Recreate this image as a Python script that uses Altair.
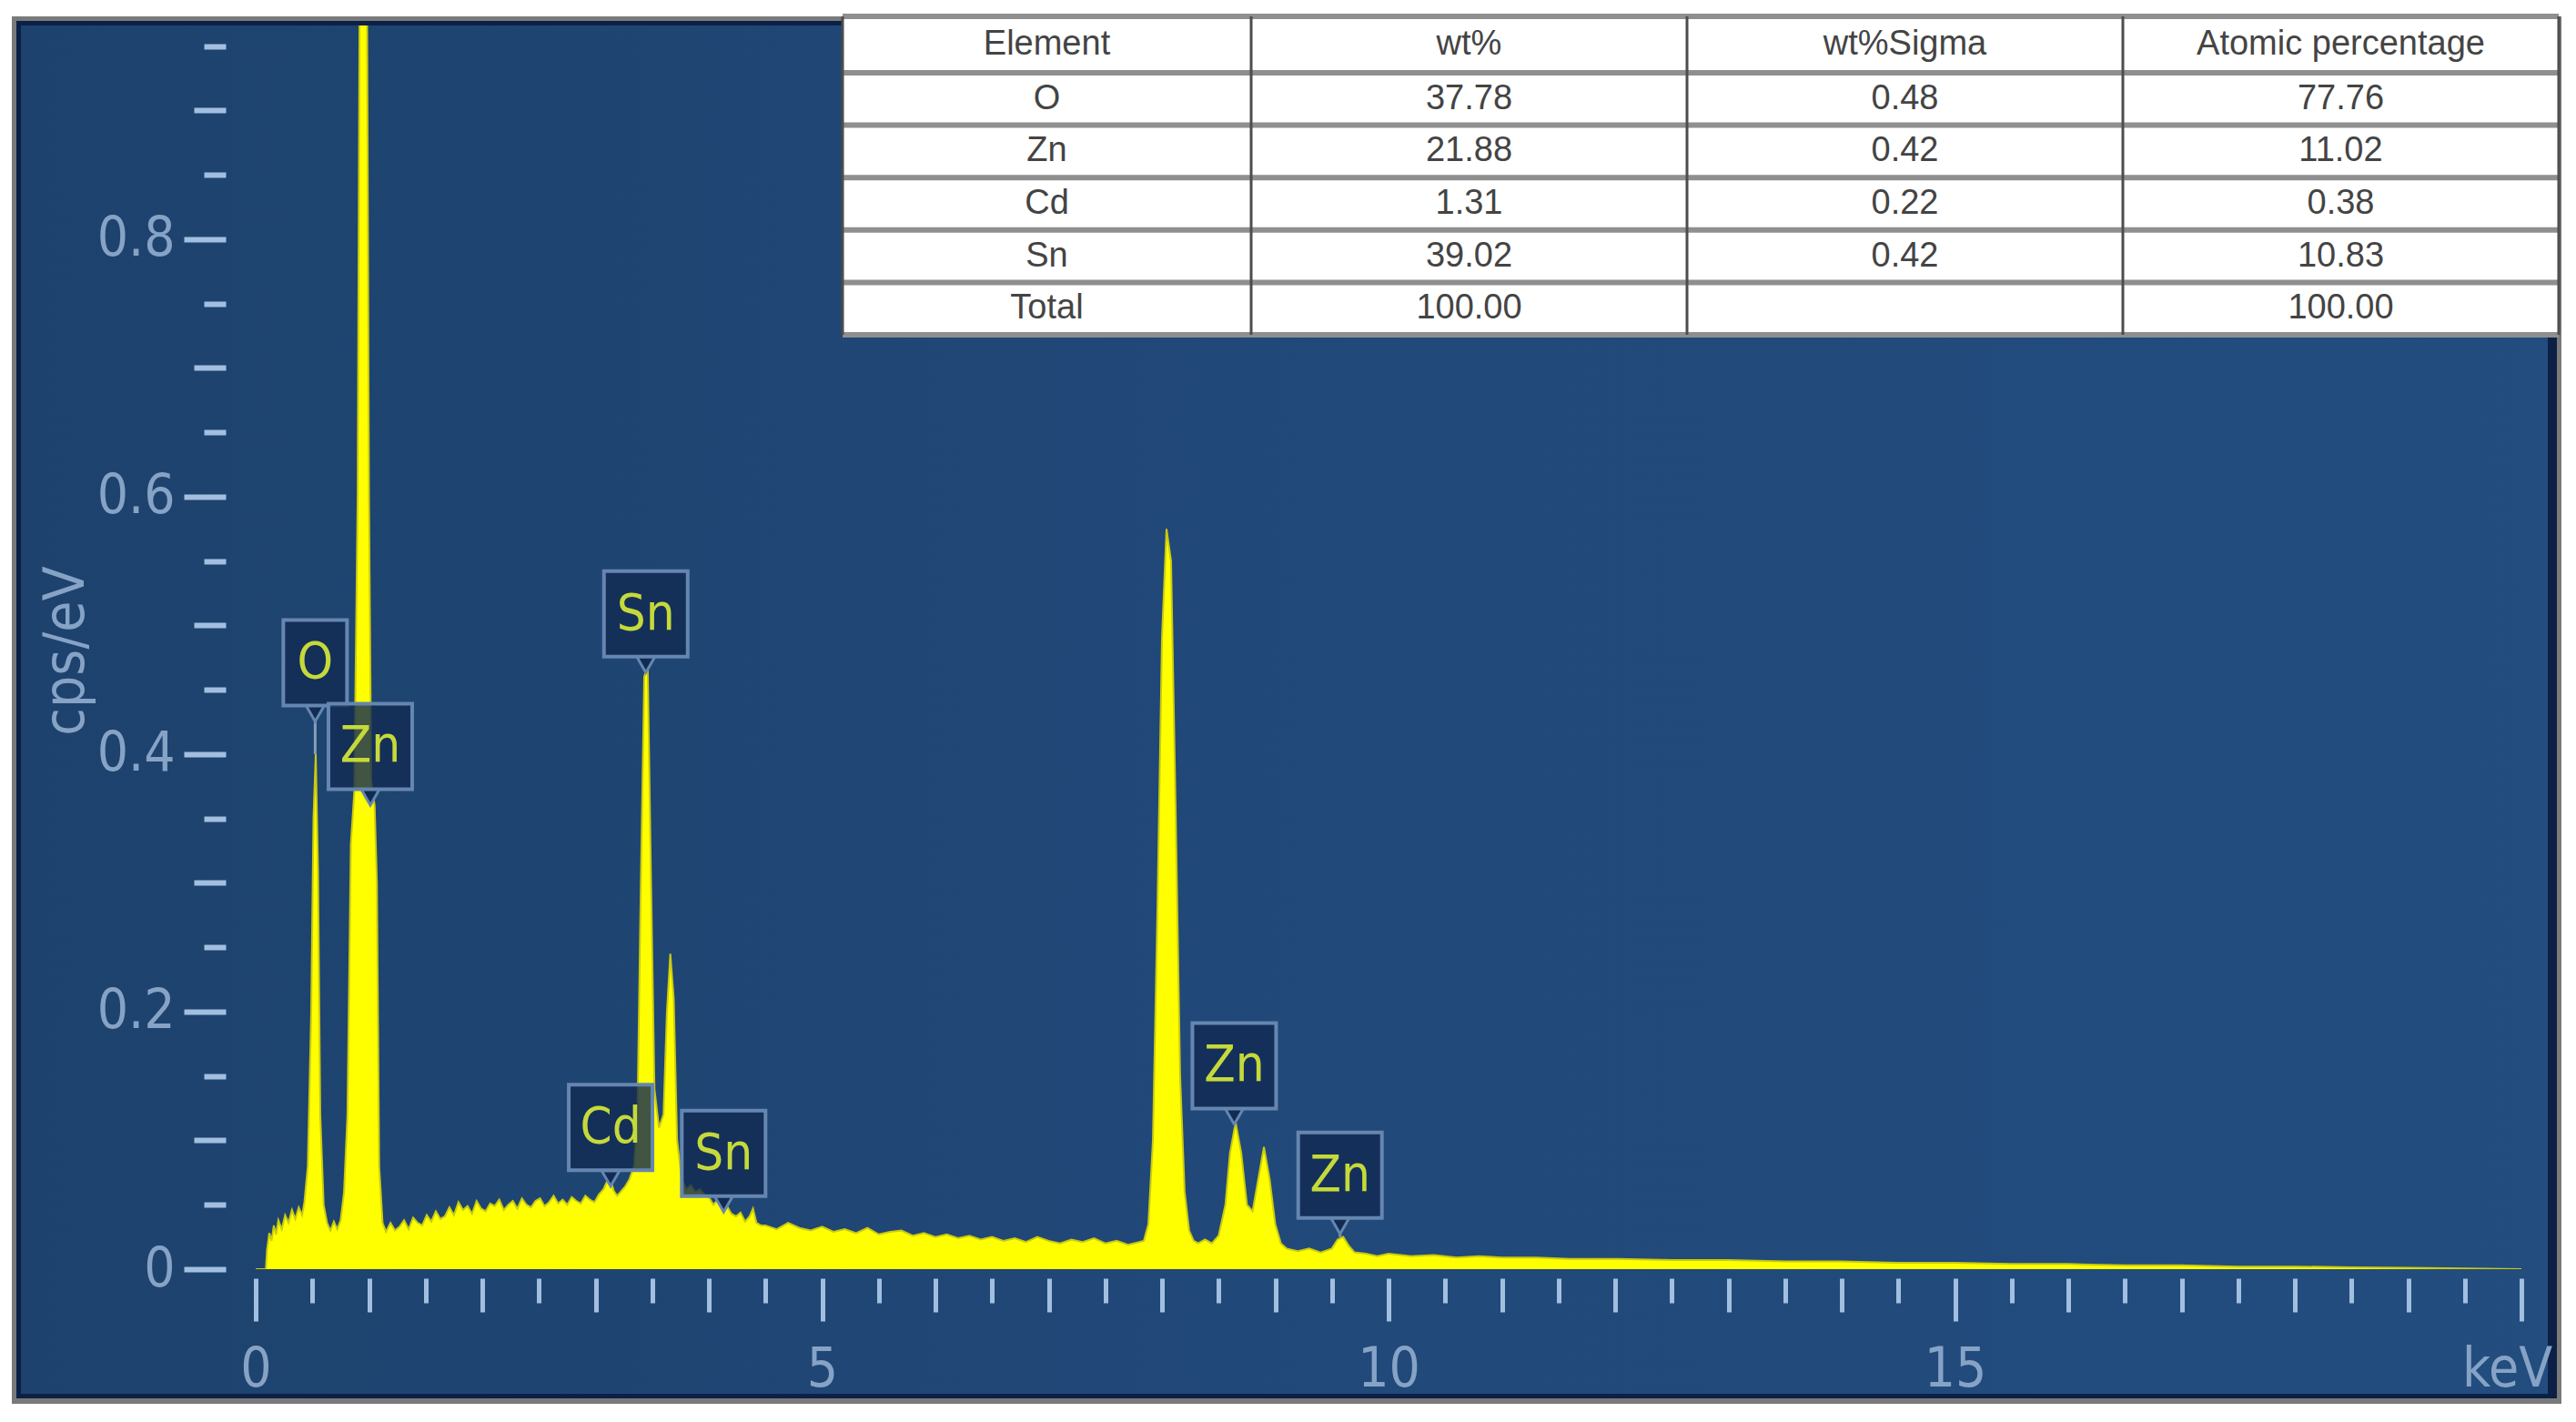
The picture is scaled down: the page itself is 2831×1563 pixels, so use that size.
import altair as alt
import pandas as pd

# ---------------- data ----------------
energy_keV = [
    0.00, 0.09, 0.10, 0.12, 0.14, 0.16, 0.18, 0.20, 0.23, 0.26, 0.29, 0.32, 0.35, 0.38, 0.41, 0.43,
    0.46, 0.49, 0.51, 0.53, 0.55, 0.57, 0.60, 0.63, 0.66, 0.69, 0.72, 0.75, 0.78, 0.81, 0.84, 0.87,
    0.90, 0.92, 0.98, 1.00, 1.02, 1.05, 1.07, 1.09, 1.12,
    1.15, 1.19, 1.23, 1.27, 1.31, 1.35, 1.39, 1.43, 1.47, 1.51, 1.55, 1.59, 1.63, 1.67, 1.71, 1.75,
    1.79, 1.83, 1.87, 1.91, 1.95, 1.99, 2.03, 2.07, 2.11, 2.15, 2.19, 2.23, 2.27, 2.31, 2.35, 2.39,
    2.43, 2.47, 2.51, 2.55, 2.59, 2.63, 2.67, 2.71, 2.75, 2.79, 2.83, 2.87, 2.91, 2.95, 2.99, 3.03,
    3.07, 3.10, 3.13, 3.16, 3.19, 3.22, 3.26, 3.30, 3.34, 3.37, 3.40, 3.43, 3.46, 3.49, 3.52, 3.56,
    3.60, 3.63, 3.66, 3.69, 3.72, 3.76, 3.80, 3.84, 3.88, 3.92, 3.96, 4.00, 4.04, 4.08, 4.12, 4.16,
    4.20, 4.24, 4.28, 4.32, 4.36, 4.39, 4.42, 4.46,
    4.5, 4.6, 4.7, 4.8, 4.9, 5.0, 5.1, 5.2, 5.3, 5.4, 5.5, 5.6, 5.7, 5.8, 5.9, 6.0, 6.1, 6.2, 6.3,
    6.4, 6.5, 6.6, 6.7, 6.8, 6.9, 7.0, 7.1, 7.2, 7.3, 7.4, 7.5, 7.6, 7.7, 7.8,
    7.84, 7.88, 7.92, 7.96, 8.00, 8.04, 8.08, 8.12, 8.16, 8.20, 8.24, 8.28, 8.32, 8.38, 8.44, 8.50,
    8.56, 8.60, 8.65, 8.70, 8.75, 8.80, 8.85, 8.90, 8.95, 9.00, 9.05, 9.10, 9.20, 9.30, 9.40, 9.50,
    9.55, 9.60, 9.65, 9.70,
    9.8, 9.9, 10.0, 10.2, 10.4, 10.6, 10.8, 11.0, 11.3, 11.6, 12.0, 12.5, 13.0, 13.5, 14.0, 14.5,
    15.0, 15.5, 16.0, 16.5, 17.0, 17.5, 18.0, 18.5, 19.0, 19.5, 20.0,
]
cps_per_eV = [
    0.000, 0.000, 0.015, 0.028, 0.022, 0.034, 0.027, 0.038, 0.031, 0.042, 0.036, 0.046, 0.039, 0.048, 0.042, 0.052,
    0.080, 0.200, 0.350, 0.400, 0.310, 0.120, 0.050, 0.036, 0.030, 0.037, 0.031, 0.038, 0.060, 0.120, 0.330, 0.370,
    0.600, 1.050, 1.050, 0.600, 0.380, 0.360, 0.300, 0.080, 0.036,
    0.029, 0.036, 0.030, 0.033, 0.038, 0.031, 0.040, 0.036, 0.034, 0.042, 0.037, 0.045, 0.039, 0.041, 0.048, 0.042,
    0.052, 0.046, 0.049, 0.043, 0.053, 0.047, 0.045, 0.051, 0.049, 0.054, 0.046, 0.050, 0.053, 0.047, 0.055, 0.050,
    0.048, 0.053, 0.055, 0.049, 0.052, 0.057, 0.051, 0.054, 0.050, 0.056, 0.053, 0.051, 0.057, 0.054, 0.052, 0.058,
    0.062, 0.068, 0.070, 0.061, 0.057, 0.060, 0.064, 0.070, 0.080, 0.120, 0.300, 0.460, 0.470, 0.300, 0.140, 0.110,
    0.120, 0.200, 0.245, 0.210, 0.100, 0.070, 0.062, 0.065, 0.060, 0.062, 0.058, 0.056, 0.050, 0.054, 0.046, 0.049,
    0.043, 0.041, 0.044, 0.037, 0.041, 0.047, 0.036, 0.034,
    0.034, 0.031, 0.036, 0.032, 0.030, 0.033, 0.029, 0.031, 0.028, 0.032, 0.027, 0.029, 0.030, 0.026, 0.028, 0.025, 0.027, 0.024, 0.026,
    0.023, 0.025, 0.022, 0.024, 0.021, 0.025, 0.022, 0.020, 0.023, 0.021, 0.024, 0.020, 0.022, 0.019, 0.021,
    0.022, 0.035, 0.100, 0.280, 0.490, 0.575, 0.550, 0.360, 0.150, 0.060, 0.030, 0.022, 0.020, 0.023, 0.020, 0.026,
    0.050, 0.090, 0.114, 0.090, 0.050, 0.045, 0.070, 0.095, 0.070, 0.035, 0.020, 0.016, 0.014, 0.016, 0.013, 0.016,
    0.023, 0.025, 0.018, 0.013,
    0.012, 0.010, 0.012, 0.010, 0.011, 0.009, 0.010, 0.009, 0.009, 0.008, 0.008, 0.007, 0.007, 0.006, 0.006, 0.005,
    0.005, 0.004, 0.004, 0.003, 0.003, 0.002, 0.002, 0.0015, 0.001, 0.0005, 0.000,
]

peak_labels = ["O", "Zn", "Sn", "Cd", "Sn", "Zn", "Zn"]
peak_keV = [0.525, 1.012, 3.444, 3.133, 4.131, 8.638, 9.572]
label_center = [0.471, 0.406, 0.509, 0.110, 0.090, 0.158, 0.073]
peak_top = [0.40, 0.37, 0.465, 0.07, 0.056, 0.114, 0.025]

x_major = [0, 5, 10, 15]
x_end = [20]
x_medium = [1, 2, 3, 4, 6, 7, 8, 9, 11, 12, 13, 14, 16, 17, 18, 19]
x_minor = [0.5, 1.5, 2.5, 3.5, 4.5, 5.5, 6.5, 7.5, 8.5, 9.5, 10.5, 11.5, 12.5, 13.5, 14.5,
           15.5, 16.5, 17.5, 18.5, 19.5]
y_major = [0, 0.2, 0.4, 0.6, 0.8]
y_medium = [0.1, 0.3, 0.5, 0.7, 0.9]
y_minor = [0.05, 0.15, 0.25, 0.35, 0.45, 0.55, 0.65, 0.75, 0.85, 0.95]

table_headers = ["Element", "wt%", "wt%Sigma", "Atomic percentage"]
table_element = ["O", "Zn", "Cd", "Sn", "Total"]
table_wt = ["37.78", "21.88", "1.31", "39.02", "100.00"]
table_sigma = ["0.48", "0.42", "0.22", "0.42", ""]
table_atomic = ["77.76", "11.02", "0.38", "10.83", "100.00"]

# ---------------- layout / style ----------------
W, H = 2490, 1367
XMAX, YMAX = 20, 0.966
PX_KEV = W / XMAX
PX_UNIT = H / YMAX
NARROW = "Liberation Sans Narrow, Arial Narrow, DejaVu Sans Condensed, sans-serif"
TICK = "#a2bfe0"
LAB = "#86a3c6"

xs = alt.Scale(domain=[0, XMAX], nice=False, zero=False)
ys = alt.Scale(domain=[0, YMAX], nice=False, zero=False)

spec = pd.DataFrame({"keV": energy_keV, "cps": cps_per_eV})

lab = pd.DataFrame({"t": peak_labels, "k": peak_keV, "c": label_center, "p": peak_top})
lab["hw"] = [(35 if len(t) == 1 else 46) / PX_KEV for t in peak_labels]
hh = 47 / PX_UNIT
lab["x1"] = lab["k"] - lab["hw"]
lab["x2"] = lab["k"] + lab["hw"]
lab["y1"] = lab["c"] - hh
lab["y2"] = lab["c"] + hh

one = pd.DataFrame({"a": [0]})

# panel background (decoration)
panel_outer = alt.Chart(one).mark_rect(fill="#7a7a7a").encode(
    x=alt.value(-268), x2=alt.value(2534), y=alt.value(-10), y2=alt.value(1515))
panel_navy = alt.Chart(one).mark_rect(fill="#0c2046").encode(
    x=alt.value(-263), x2=alt.value(2529), y=alt.value(-5), y2=alt.value(1509))
panel_blue = alt.Chart(one).mark_rect(
    fill=alt.Gradient(gradient="linear", x1=0, x2=1, y1=0, y2=0,
                      stops=[alt.GradientStop(offset=0, color="#1d426d"),
                             alt.GradientStop(offset=0.55, color="#21497a"),
                             alt.GradientStop(offset=1, color="#224d7e")])
).encode(x=alt.value(-258), x2=alt.value(2519), y=alt.value(0), y2=alt.value(1504))


def xaxis(values, size, labels=False, expr=None, loff=0):
    kw = dict(values=values, orient="bottom", offset=10, domain=False, grid=False,
              tickColor=TICK, tickWidth=5, tickSize=size, title=None, zindex=1)
    if labels:
        kw.update(labelExpr=expr, labelOffset=loff,
                  labelFont=NARROW, labelFontSize=60, labelColor=LAB, labelPadding=24,
                  labelOverlap=False, labelFlush=False)
    else:
        kw.update(labels=False)
    return alt.Axis(**kw)


def yaxis(values, size, labels=False):
    kw = dict(values=values, orient="left", offset=33, domain=False, grid=False,
              tickColor=TICK, tickWidth=6, tickSize=size, zindex=1)
    if labels:
        kw.update(labelExpr="format(datum.value, '.1~f')",
                  labelFont=NARROW, labelFontSize=60, labelColor=LAB, labelPadding=10,
                  labelOverlap=False, labelFlush=False,
                  title="cps/eV", titleFont=NARROW, titleFontSize=62, titleColor=LAB,
                  titleFontWeight="normal", titleX=-176, titleY=687,
                  titleBaseline="middle", titleAngle=270)
    else:
        kw.update(labels=False, title=None)
    return alt.Axis(**kw)


area = alt.Chart(spec).mark_area(color="#ffff00", clip=True, interpolate="linear").encode(
    x=alt.X("keV:Q", scale=xs,
            axis=xaxis(x_major, 47, True, "format(datum.value, 'd')")),
    y=alt.Y("cps:Q", scale=ys, axis=yaxis(y_major, 46, True)),
)
ax_end = alt.Chart(spec).mark_point(opacity=0).encode(
    x=alt.X("keV:Q", scale=xs, axis=xaxis(x_end, 47, True, "'keV'", -16)),
    y=alt.Y("cps:Q", scale=ys, axis=None),
)
ax_med = alt.Chart(spec).mark_point(opacity=0).encode(
    x=alt.X("keV:Q", scale=xs, axis=xaxis(x_medium, 37)),
    y=alt.Y("cps:Q", scale=ys, axis=yaxis(y_medium, 35)),
)
ax_min = alt.Chart(spec).mark_point(opacity=0).encode(
    x=alt.X("keV:Q", scale=xs, axis=xaxis(x_minor, 27)),
    y=alt.Y("cps:Q", scale=ys, axis=yaxis(y_minor, 24)),
)
edge = alt.Chart(spec).mark_line(color="#caca10", strokeWidth=2, clip=True).encode(
    x=alt.X("keV:Q", scale=xs, axis=None),
    y=alt.Y("cps:Q", scale=ys, axis=None),
)

connector = alt.Chart(lab).mark_rule(color="#a9bccf", strokeWidth=3, opacity=0.75).encode(
    x=alt.X("k:Q", scale=xs, axis=None),
    y=alt.Y("y1:Q", scale=ys, axis=None),
    y2="p:Q",
)
boxes = alt.Chart(lab).mark_rect(fill="#112b52", fillOpacity=0.8, stroke="#6586b0",
                                 strokeWidth=4).encode(
    x=alt.X("x1:Q", scale=xs, axis=None), x2="x2:Q",
    y=alt.Y("y1:Q", scale=ys, axis=None), y2="y2:Q",
)
pointers = alt.Chart(lab).mark_point(shape="triangle-down", filled=True, size=380,
                                     fill="#112b52", stroke="#6586b0", strokeWidth=3,
                                     opacity=1, yOffset=9).encode(
    x=alt.X("k:Q", scale=xs, axis=None),
    y=alt.Y("y1:Q", scale=ys, axis=None),
)
texts = alt.Chart(lab).mark_text(font=NARROW, fontSize=56, color="#c5da3a",
                                 baseline="middle", align="center").encode(
    x=alt.X("k:Q", scale=xs, axis=None),
    y=alt.Y("c:Q", scale=ys, axis=None),
    text="t:N",
)

# ---------------- table (placed in the chart's own keV / cps units) ----------------
TABLE_COL_IDX = [0, 1, 4]
TABLE_COL_PX = [645, 1094, 2531]
TABLE_ROW_IDX = [0, 1, 6]
TABLE_ROW_PX = [-10, 52, 340]


def piece(v, idx, px):
    for i in range(len(idx) - 1):
        if v <= idx[i + 1] or i == len(idx) - 2:
            t = (v - idx[i]) / (idx[i + 1] - idx[i])
            return px[i] + t * (px[i + 1] - px[i])


def col_x(c):
    return piece(c, TABLE_COL_IDX, TABLE_COL_PX) / PX_KEV


def row_y(r):
    return (H - piece(r, TABLE_ROW_IDX, TABLE_ROW_PX)) / PX_UNIT


cells = []
for c, h in enumerate(table_headers):
    cells.append({"x": col_x(c + 0.5), "y": row_y(0.5), "txt": h})
for i in range(len(table_element)):
    for c, col in enumerate([table_element, table_wt, table_sigma, table_atomic]):
        cells.append({"x": col_x(c + 0.5), "y": row_y(i + 1.5), "txt": col[i]})
cells = pd.DataFrame(cells)

tbg = alt.Chart(pd.DataFrame({"x0": [col_x(0)], "x1": [col_x(4)],
                              "y0": [row_y(0)], "y1": [row_y(6)]})).mark_rect(
    fill="white").encode(
    x=alt.X("x0:Q", scale=xs, axis=None), x2="x1:Q",
    y=alt.Y("y0:Q", scale=ys, axis=None), y2="y1:Q")
hl = alt.Chart(pd.DataFrame({"y": [row_y(r) for r in range(7)],
                             "x0": [col_x(0)] * 7, "x1": [col_x(4)] * 7})).mark_rule(
    color="#8f8f8f", strokeWidth=6).encode(
    x=alt.X("x0:Q", scale=xs, axis=None), x2="x1:Q",
    y=alt.Y("y:Q", scale=ys, axis=None))
vl = alt.Chart(pd.DataFrame({"x": [col_x(c) for c in range(5)],
                             "y0": [row_y(0)] * 5, "y1": [row_y(6)] * 5})).mark_rule(
    color="#4d4d4d", strokeWidth=3).encode(
    x=alt.X("x:Q", scale=xs, axis=None),
    y=alt.Y("y0:Q", scale=ys, axis=None), y2="y1:Q")
ttext = alt.Chart(cells).mark_text(font="Liberation Sans, Arial, sans-serif", fontSize=38,
                                   color="#444444", baseline="middle", align="center").encode(
    x=alt.X("x:Q", scale=xs, axis=None),
    y=alt.Y("y:Q", scale=ys, axis=None),
    text="txt:N")

chart = alt.layer(
    panel_outer, panel_navy, panel_blue,
    area, ax_end, ax_med, ax_min, edge, connector, boxes, pointers, texts,
    tbg, hl, vl, ttext,
).resolve_axis(
    x="independent", y="independent"
).properties(
    width=W, height=H,
    autosize=alt.AutoSizeParams(type="none"),
    padding={"left": 273, "top": 20, "right": 49, "bottom": 155},
    background="white",
).configure_view(stroke=None)

chart.save("out.html", embed_options={"renderer": "svg", "actions": False})
